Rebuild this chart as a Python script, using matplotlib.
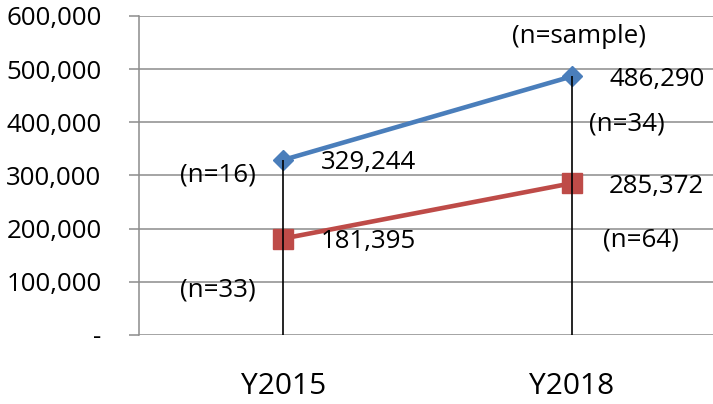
import matplotlib
matplotlib.use("Agg")
import matplotlib.pyplot as plt
from matplotlib.ticker import FuncFormatter

years = ["Y2015", "Y2018"]
series_a = [329244, 486290]
series_b = [181395, 285372]
n_labels = ["(n=16)", "(n=33)", "(n=34)", "(n=64)", "(n=sample)"]
n_pos = [(-0.358, 301000), (-0.358, 84600), (1.06, 396900),
         (1.109, 178700), (0.794, 560500)]
y_ticks = [0, 100000, 200000, 300000, 400000, 500000, 600000]


def fmt(v, _pos=None):
    """Excel style thousands with dash for zero."""
    if v == 0:
        return "-"
    return f"{int(v):,}"


def main():
    plt.rcParams["font.family"] = ["Open Sans", "DejaVu Sans"]
    fig = plt.figure(figsize=(7.13, 4.04), dpi=100)
    ax = fig.add_axes([0.195, 0.1708, 0.809, 0.7896])

    x = list(range(len(years)))
    ax.plot(x, series_a, color="#4a7ebb", lw=3.3, marker="D", ms=10,
            zorder=3)
    ax.plot(x, series_b, color="#be4b48", lw=3.3, marker="s", ms=14,
            zorder=3)

    # drop lines from the highest point to the axis
    tops = [max(a, b) for a, b in zip(series_a, series_b)]
    ax.vlines(x, 0, tops, color="black", lw=1.2, zorder=4)

    for s in (series_a, series_b):
        for xi, v in zip(x, s):
            ax.annotate(fmt(v), (xi, v), xytext=(27, -2),
                        textcoords="offset points", ha="left",
                        va="center", fontsize=18.6)

    for label, (tx, ty) in zip(n_labels, n_pos):
        ax.text(tx, ty, label, ha="left", va="center", fontsize=18.6)

    ax.set_xlim(-0.5, 1.5)
    ax.set_ylim(0, 600000)
    ax.set_xticks(x)
    ax.set_xticklabels(years, fontsize=21.5)
    ax.set_yticks(y_ticks)
    ax.yaxis.set_major_formatter(FuncFormatter(fmt))
    ax.tick_params(axis="y", labelsize=18.6, length=7, width=1.1,
                   color="#8c8c8c", pad=20)
    ax.tick_params(axis="x", length=0, pad=27)

    ax.grid(axis="y", color="#8c8c8c", lw=1.1)
    ax.set_axisbelow(True)
    for side in ("top", "right", "bottom"):
        ax.spines[side].set_visible(False)
    ax.spines["left"].set_color("#8c8c8c")
    ax.spines["left"].set_linewidth(1.1)

    fig.savefig("out.png", dpi=100)


if __name__ == "__main__":
    main()
